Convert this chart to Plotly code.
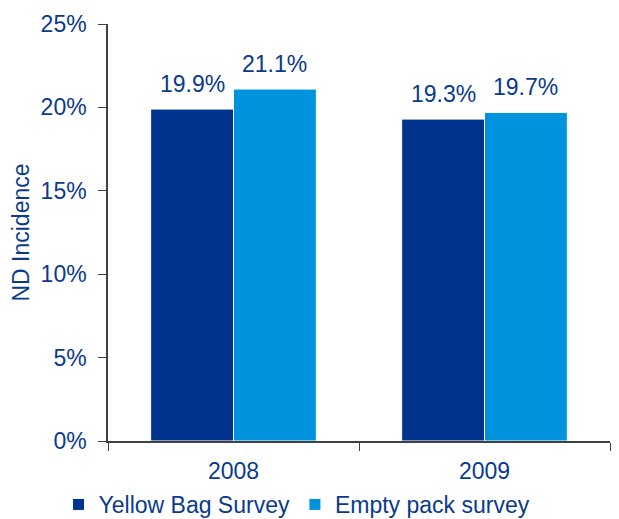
import plotly.graph_objects as go

years = ["2008", "2009"]
yellow_bag = [19.9, 19.3]
empty_pack = [21.1, 19.7]
series_names = ["Yellow Bag Survey", "Empty pack survey"]
y_ticks = [0, 5, 10, 15, 20, 25]
y_tick_labels = [f"{v}%" for v in y_ticks]

NAVY = "#00338D"
LIGHT = "#0093DD"
TEXT = "#0A3A8C"
FONT = "Liberation Sans, Arial, sans-serif"
FS = 23

fig = go.Figure()
for name, vals, col in [(series_names[0], yellow_bag, NAVY), (series_names[1], empty_pack, LIGHT)]:
    fig.add_trace(go.Bar(x=years, y=vals, name=name, marker=dict(color=col, line=dict(color="white", width=1))))

# value labels above each bar; x given as category index
for vals, shift in [(yellow_bag, -41), (empty_pack, 41)]:
    for i, v in enumerate(vals):
        fig.add_annotation(x=i, y=v, text=f"{v:.1f}%", showarrow=False, xshift=shift,
                           yshift=10, yanchor="bottom", font=dict(size=FS, color=TEXT, family=FONT))

# page body adds an 8px offset, so the figure is a bit smaller than the window
fig.update_layout(
    width=611, height=511,
    margin=dict(l=100, r=9, t=16, b=78, autoexpand=False),
    plot_bgcolor="white", paper_bgcolor="white",
    barmode="group", bargap=0.34, bargroupgap=0,
    font=dict(family=FONT, size=FS, color=TEXT),
    showlegend=True,
    legend=dict(orientation="h", xref="container", yref="container", x=0.473, xanchor="center",
                y=0.0705, yanchor="top", font=dict(size=FS, color=TEXT), itemwidth=30,
                traceorder="normal", bgcolor="rgba(0,0,0,0)"),
)
fig.update_xaxes(type="category", range=[-0.5, 1.5], automargin=False, showline=True, linecolor="#404040",
                 linewidth=1.5, ticks="outside", ticklen=8, tickcolor="#404040", tickson="boundaries",
                 showgrid=False, tickfont=dict(size=FS, color=TEXT), ticklabelstandoff=9)
fig.update_yaxes(range=[0, 25], tickvals=y_ticks, ticktext=y_tick_labels, automargin=False, showline=True,
                 linecolor="#404040", linewidth=1.5, ticks="outside", ticklen=8, tickcolor="#404040",
                 showgrid=False, zeroline=False, tickfont=dict(size=FS, color=TEXT), ticklabelstandoff=7,
                 title=dict(text="ND Incidence", font=dict(size=FS, color=TEXT), standoff=10))

fig.write_html("out.html")
